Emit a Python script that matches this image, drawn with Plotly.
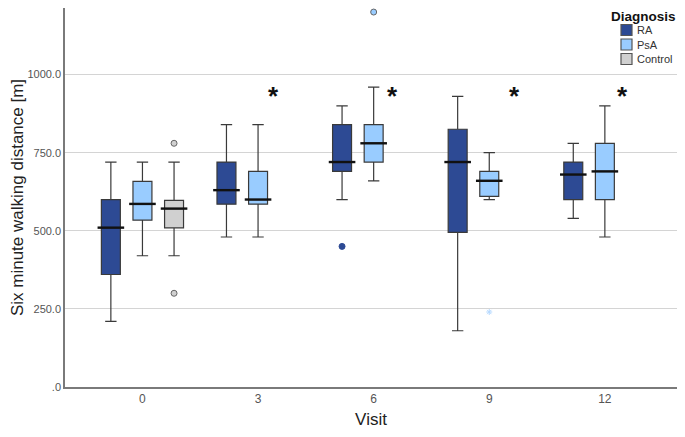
import plotly.graph_objects as go

# visits (x categories)
visits = ["0", "3", "6", "9", "12"]

# box statistics: lower whisker, q1, median, q3, upper whisker
ra_visits = ["0", "3", "6", "9", "12"]
ra_low = [210, 480, 600, 180, 540]
ra_q1 = [360, 585, 690, 495, 600]
ra_med = [510, 630, 720, 720, 680]
ra_q3 = [600, 720, 840, 825, 720]
ra_high = [720, 840, 900, 930, 780]
ra_out_x = ["6"]
ra_out_y = [450]

psa_visits = ["0", "3", "6", "9", "12"]
psa_low = [420, 480, 660, 600, 480]
psa_q1 = [534, 585, 720, 610, 600]
psa_med = [586, 600, 780, 660, 690]
psa_q3 = [658, 690, 840, 690, 780]
psa_high = [720, 840, 960, 750, 900]
psa_out_x = ["6"]
psa_out_y = [1200]
psa_ext_x = ["9"]      # extreme value (star)
psa_ext_y = [240]

ctrl_visits = ["0"]
ctrl_low = [420]
ctrl_q1 = [509]
ctrl_med = [571]
ctrl_q3 = [597]
ctrl_high = [720]
ctrl_out_x = ["0", "0"]
ctrl_out_y = [780, 300]

# visits marked significant, and x shift of the star (px)
sig_visits = ["3", "6", "9", "12"]
sig_shift = [15, 19, 25, 18]

ytick_vals = [0, 250, 500, 750, 1000]
ytick_text = [".0", "250.0", "500.0", "750.0", "1000.0"]

groups = ["RA", "PsA", "Control"]
colors = {"RA": "#2d4a94", "PsA": "#99ccff", "Control": "#d0d0d0"}

FONT = "Liberation Sans, Arial, sans-serif"
GAP = 0.18


def add_group(fig, name, xs, lo, q1, med, q3, hi):
    fig.add_trace(go.Box(
        name=name,
        x=xs,
        lowerfence=lo,
        q1=q1,
        median=med,
        q3=q3,
        upperfence=hi,
        offsetgroup=name,
        boxpoints=False,
        fillcolor=colors[name],
        line=dict(color="#3a3a3a", width=1.2),
        whiskerwidth=0.6,
        showlegend=False,
    ))


def add_points(fig, name, xs, ys, fill, symbol="circle", size=6, line="#666666"):
    fig.add_trace(go.Scatter(
        x=xs, y=ys, mode="markers", offsetgroup=name, showlegend=False,
        marker=dict(color=fill, size=size, symbol=symbol,
                    line=dict(color=line, width=1)),
        hoverinfo="skip",
    ))


def add_median(fig, name, xs, med):
    # thicker black median line like the SPSS output
    fig.add_trace(go.Scatter(
        x=xs, y=med, mode="markers", offsetgroup=name, showlegend=False,
        marker=dict(symbol="line-ew", size=19, color="#111111",
                    line=dict(color="#111111", width=2.4)),
        hoverinfo="skip",
    ))


fig = go.Figure()
add_group(fig, "RA", ra_visits, ra_low, ra_q1, ra_med, ra_q3, ra_high)
add_group(fig, "PsA", psa_visits, psa_low, psa_q1, psa_med, psa_q3, psa_high)
add_group(fig, "Control", ctrl_visits, ctrl_low, ctrl_q1, ctrl_med, ctrl_q3, ctrl_high)

add_median(fig, "RA", ra_visits, ra_med)
add_median(fig, "PsA", psa_visits, psa_med)
add_median(fig, "Control", ctrl_visits, ctrl_med)

add_points(fig, "RA", ra_out_x, ra_out_y, colors["RA"], line=colors["RA"])
add_points(fig, "PsA", psa_out_x, psa_out_y, colors["PsA"])
add_points(fig, "PsA", psa_ext_x, psa_ext_y, "#b5d9ff", symbol="asterisk-open",
           size=5, line="#a8d0ff")
add_points(fig, "Control", ctrl_out_x, ctrl_out_y, colors["Control"])

# category axis: annotations take the category index
for v, s in zip(sig_visits, sig_shift):
    fig.add_annotation(x=visits.index(v), y=930, xref="x", yref="y",
                       text="<b>*</b>", showarrow=False, xshift=s,
                       font=dict(size=26, color="#111111", family=FONT))

# compact legend drawn by hand (plotly's rows are too tall)
fig.add_annotation(xref="paper", yref="paper", x=1, y=1, xshift=-34, yshift=0,
                   xanchor="center", yanchor="top", showarrow=False,
                   text="<b>Diagnosis</b>", borderpad=0,
                   font=dict(size=13.5, color="#111111", family=FONT))
for i, name in enumerate(groups):
    yc = -22 - 14.5 * i
    fig.add_shape(type="rect", xref="paper", yref="paper",
                  xsizemode="pixel", ysizemode="pixel", xanchor=1, yanchor=1,
                  x0=-56, x1=-45, y0=yc - 5.5, y1=yc + 5.5,
                  fillcolor=colors[name], line=dict(color="#555555", width=1.2))
    fig.add_annotation(xref="paper", yref="paper", x=1, y=1, xshift=-42, yshift=yc,
                       xanchor="left", yanchor="middle", showarrow=False,
                       text=name, font=dict(size=11, color="#333333", family=FONT))

# the page body has an 8px margin: keep the figure inside the window
fig.update_layout(
    width=669, height=421,
    margin=dict(l=57, r=0, t=0, b=42, autoexpand=False),
    paper_bgcolor="white",
    plot_bgcolor="white",
    showlegend=False,
    boxmode="group",
    boxgap=GAP,
    boxgroupgap=0.4,
    scattermode="group",
    scattergap=GAP,
    font=dict(family=FONT, color="#222222"),
    xaxis=dict(
        type="category",
        categoryorder="array", categoryarray=visits,
        range=[-0.67, 4.624],
        automargin=False,
        title=dict(text="Visit", font=dict(size=17, color="#222222"), standoff=9),
        tickfont=dict(size=12, color="#555555"),
        showline=True, linecolor="#7a7a7a", linewidth=1.5,
        showgrid=False, ticks="", ticklen=0,
    ),
    yaxis=dict(
        range=[0, 1213],
        automargin=False,
        tickvals=ytick_vals, ticktext=ytick_text,
        title=dict(text="Six minute walking distance [m]",
                   font=dict(size=17, color="#222222"), standoff=9),
        tickfont=dict(size=11, color="#555555"),
        showline=True, linecolor="#7a7a7a", linewidth=1.5,
        showgrid=True, gridcolor="#d4d4d4", gridwidth=1,
        zeroline=False, ticks="", ticklen=0,
    ),
)

fig.write_html("out.html")
